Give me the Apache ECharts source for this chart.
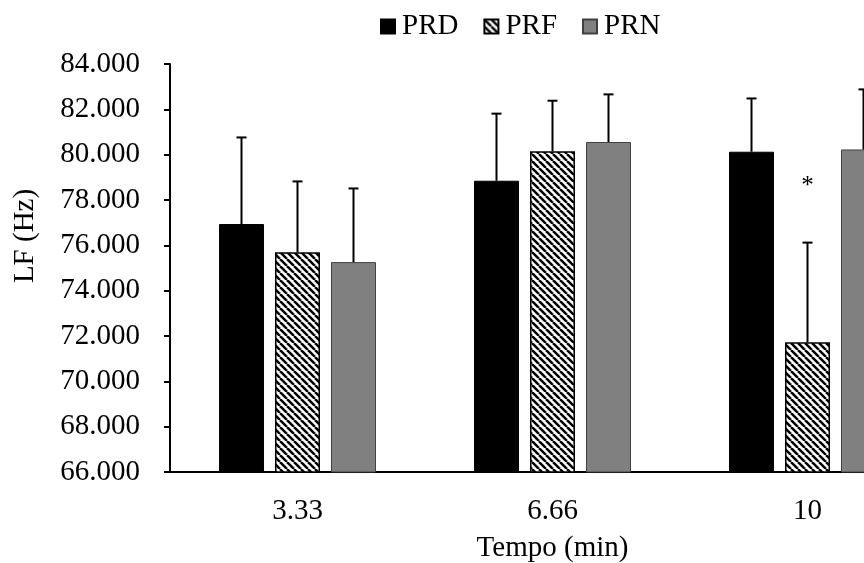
<!DOCTYPE html>
<html>
<head>
<meta charset="utf-8">
<script src="https://cdn.jsdelivr.net/npm/echarts@6/dist/echarts.min.js"></script>
<style>
  html, body { margin: 0; padding: 0; background: #fff; }
  #chart { width: 864px; height: 563px; }
</style>
</head>
<body>
<div id="chart"></div>
<script>
var categories = ['3.33', '6.66', '10'];
var seriesNames = ['PRD', 'PRF', 'PRN'];
var prd = [76.94, 78.85, 80.13];
var prf = [75.69, 80.15, 71.72];
var prn = [75.26, 80.56, 80.23];
var prdErr = [3.82, 2.96, 2.35];
var prfErr = [3.13, 2.23, 4.40];
var prnErr = [3.25, 2.10, 2.65];
var yTicks = { min: 66, max: 84, interval: 2 };

var font = '"Liberation Serif", "DejaVu Serif", serif';

// hatch pattern for PRF
var tile = document.createElement('canvas');
tile.width = 7;
tile.height = 7;
var ctx = tile.getContext('2d');
ctx.fillStyle = '#fff';
ctx.fillRect(0, 0, 7, 7);
ctx.strokeStyle = '#000';
ctx.lineWidth = 2.5;
for (var k = -1; k <= 1; k++) {
    ctx.beginPath();
    ctx.moveTo(k * 7, 0);
    ctx.lineTo(k * 7 + 7, 7);
    ctx.stroke();
}
var hatch = { image: tile, repeat: 'repeat' };

var chartDom = document.getElementById('chart');
var myChart = echarts.init(chartDom);

var barW = 45;
var step = 56; // bar width + gap

function errorSeries(values, errs, offset) {
    return {
        type: 'custom',
        silent: true,
        z: 5,
        renderItem: function (params, api) {
            var i = api.value(0);
            var base = api.coord([i, api.value(1)]);
            var top = api.coord([i, api.value(1) + api.value(2)]);
            var x = base[0] + offset;
            var st = { stroke: '#000', lineWidth: 2 };
            return {
                type: 'group',
                children: [
                    { type: 'line', shape: { x1: x, y1: base[1], x2: x, y2: top[1] }, style: st },
                    { type: 'line', shape: { x1: x - 5, y1: top[1], x2: x + 5, y2: top[1] }, style: st }
                ]
            };
        },
        data: values.map(function (v, i) { return [i, v, errs[i]]; })
    };
}

var prfData = prf.map(function (v, i) {
    if (i === 2) {
        return {
            value: v,
            label: {
                show: true,
                position: 'top',
                distance: 143,
                formatter: '*',
                fontSize: 25,
                fontFamily: font,
                color: '#000'
            }
        };
    }
    return v;
});

var option = {
    animation: false,
    legend: {
        top: 7,
        left: 375,
        itemWidth: 14,
        itemHeight: 14,
        itemGap: 25,
        icon: 'rect',
        textStyle: { fontSize: 29, fontFamily: font, color: '#000', padding: [0, 0, 0, 2] },
        data: seriesNames
    },
    grid: {
        left: 170,
        top: 64,
        width: 765,
        height: 408,
        outerBoundsMode: 'none'
    },
    xAxis: {
        type: 'category',
        data: categories,
        name: 'Tempo (min)',
        nameLocation: 'middle',
        nameGap: 62,
        nameTextStyle: { fontSize: 29, fontFamily: font, color: '#000' },
        axisLine: { lineStyle: { color: '#000', width: 2 } },
        axisTick: { show: false },
        axisLabel: { fontSize: 29, fontFamily: font, color: '#000', margin: 25 }
    },
    yAxis: {
        type: 'value',
        min: yTicks.min,
        max: yTicks.max,
        interval: yTicks.interval,
        name: 'LF (Hz)',
        nameLocation: 'middle',
        nameGap: 130,
        nameTextStyle: { fontSize: 29, fontFamily: font, color: '#000', padding: [0, 0, 0, 64] },
        axisLine: { show: true, lineStyle: { color: '#000', width: 2 } },
        axisTick: { show: true, length: 6, lineStyle: { color: '#000', width: 2 } },
        splitLine: { show: false },
        axisLabel: {
            fontSize: 29,
            fontFamily: font,
            color: '#000',
            margin: 30,
            formatter: function (v) { return v.toFixed(3); }
        }
    },
    series: [
        {
            name: 'PRD',
            type: 'bar',
            barWidth: barW,
            barGap: '24.4%',
            itemStyle: { color: '#000', borderColor: '#000', borderWidth: 1 },
            data: prd
        },
        {
            name: 'PRF',
            type: 'bar',
            barWidth: barW,
            barGap: '24.4%',
            itemStyle: { color: hatch, borderColor: '#000', borderWidth: 1.5 },
            data: prfData
        },
        {
            name: 'PRN',
            type: 'bar',
            barWidth: barW,
            barGap: '24.4%',
            itemStyle: { color: '#808080', borderColor: '#404040', borderWidth: 1 },
            data: prn
        },
        errorSeries(prd, prdErr, -step),
        errorSeries(prf, prfErr, 0),
        errorSeries(prn, prnErr, step)
    ]
};

option && myChart.setOption(option);
</script>
</body>
</html>
